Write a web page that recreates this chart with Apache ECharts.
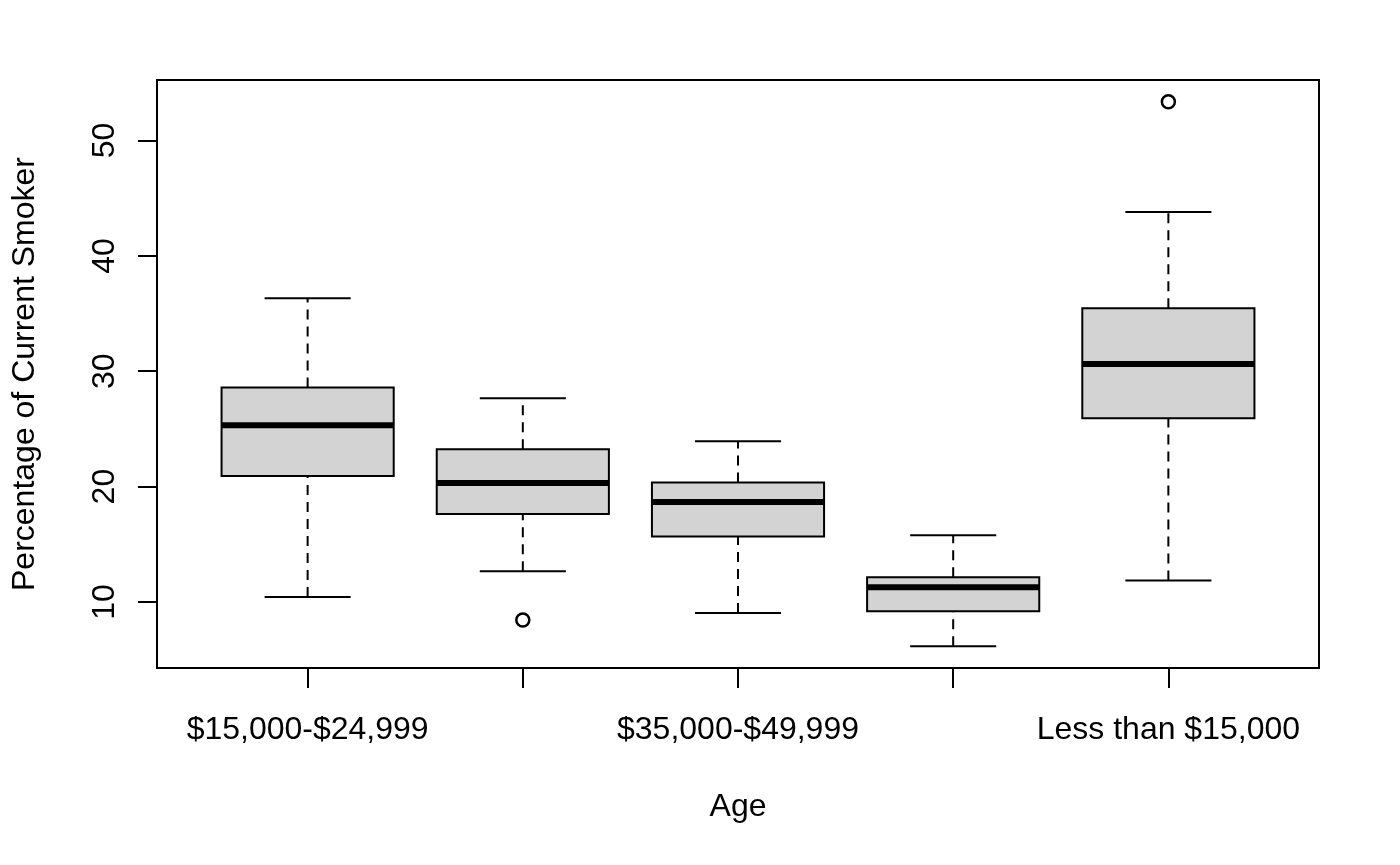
<!DOCTYPE html>
<html>
<head>
<meta charset="utf-8">
<script src="https://cdn.jsdelivr.net/npm/echarts@6/dist/echarts.min.js"></script>
<style>
  html, body { margin: 0; padding: 0; background: #fff; }
  #main { width: 1400px; height: 865px; }
</style>
</head>
<body>
<div id="main"></div>
<script>
var categories = ['$15,000-$24,999', '$25,000-$34,999', '$35,000-$49,999', '$50,000 or more', 'Less than $15,000'];
var lowWhisker = [10.43, 12.66, 9.05, 6.16, 11.85];
var q1 = [20.92, 17.63, 15.67, 9.19, 25.92];
var medians = [25.31, 20.31, 18.67, 11.27, 30.62];
var q3 = [28.60, 23.23, 20.35, 12.14, 35.45];
var highWhisker = [36.32, 27.65, 23.93, 15.78, 43.80];
var outliers = [[2, 8.44], [5, 53.36]];
var yTicks = [10, 20, 30, 40, 50];

// R style axis range: data range padded by 4%
var allVals = lowWhisker.concat(highWhisker, outliers.map(function (o) { return o[1]; }));
var lo = Math.min.apply(null, allVals), hi = Math.max.apply(null, allVals);
var pad = (hi - lo) * 0.04;

var boxData = categories.map(function (c, i) {
    return [i + 1, lowWhisker[i], q1[i], medians[i], q3[i], highWhisker[i]];
});

var font = 'Arial, "Liberation Sans", sans-serif';
var chart = echarts.init(document.getElementById('main'));

function renderBox(params, api) {
    var x = api.value(0);
    var pLow = api.coord([x, api.value(1)]);
    var pQ1 = api.coord([x, api.value(2)]);
    var pMed = api.coord([x, api.value(3)]);
    var pQ3 = api.coord([x, api.value(4)]);
    var pHigh = api.coord([x, api.value(5)]);
    var halfBox = api.size([0.4, 0])[0];
    var halfCap = api.size([0.2, 0])[0];
    var cx = pMed[0];
    var dashed = { stroke: '#000', lineWidth: 2, lineDash: [10, 7] };
    var solid = { stroke: '#000', lineWidth: 2 };
    return {
        type: 'group',
        children: [
            { type: 'line', shape: { x1: cx, y1: pQ3[1], x2: cx, y2: pHigh[1] }, style: dashed },
            { type: 'line', shape: { x1: cx, y1: pLow[1], x2: cx, y2: pQ1[1] }, style: dashed },
            { type: 'line', shape: { x1: cx - halfCap, y1: pHigh[1], x2: cx + halfCap, y2: pHigh[1] }, style: solid },
            { type: 'line', shape: { x1: cx - halfCap, y1: pLow[1], x2: cx + halfCap, y2: pLow[1] }, style: solid },
            {
                type: 'rect',
                shape: { x: cx - halfBox, y: pQ3[1], width: halfBox * 2, height: pQ1[1] - pQ3[1] },
                style: { fill: '#d3d3d3', stroke: '#000', lineWidth: 2 }
            },
            { type: 'line', shape: { x1: cx - halfBox, y1: pMed[1], x2: cx + halfBox, y2: pMed[1] }, style: { stroke: '#000', lineWidth: 6 } }
        ]
    };
}

option = {
    animation: false,
    backgroundColor: '#fff',
    grid: {
        left: 157,
        right: 81,
        top: 80,
        bottom: 197,
        show: true,
        borderColor: '#000',
        borderWidth: 2,
        backgroundColor: 'transparent'
    },
    xAxis: {
        type: 'value',
        min: 0.3,
        max: 5.7,
        splitLine: { show: false },
        axisLine: { show: false },
        axisTick: {
            show: true,
            customValues: [1, 2, 3, 4, 5],
            length: 20,
            lineStyle: { color: '#000', width: 2 }
        },
        axisLabel: {
            customValues: [1, 3, 5],
            formatter: function (v) { return categories[Math.round(v) - 1]; },
            color: '#000',
            fontSize: 32,
            lineHeight: 32,
            fontFamily: font,
            margin: 46
        },
        name: 'Age',
        nameLocation: 'middle',
        nameGap: 123,
        nameTextStyle: { color: '#000', fontSize: 32, fontFamily: font, lineHeight: 32 }
    },
    yAxis: {
        type: 'value',
        min: lo - pad,
        max: hi + pad,
        splitLine: { show: false },
        axisLine: { show: false },
        axisTick: {
            show: true,
            customValues: yTicks,
            length: 19,
            lineStyle: { color: '#000', width: 2 }
        },
        axisLabel: {
            customValues: yTicks,
            rotate: 90,
            color: '#000',
            fontSize: 32,
            fontFamily: font,
            margin: 36
        },
        name: 'Percentage of Current Smoker',
        nameLocation: 'middle',
        nameRotate: 90,
        nameGap: 116,
        nameTextStyle: { color: '#000', fontSize: 32, fontFamily: font }
    },
    series: [
        {
            name: 'box',
            type: 'custom',
            renderItem: renderBox,
            encode: { x: 0, y: [1, 2, 3, 4, 5] },
            data: boxData,
            silent: true
        },
        {
            name: 'outliers',
            type: 'scatter',
            symbol: 'circle',
            symbolSize: 13,
            itemStyle: { color: 'rgba(0,0,0,0)', borderColor: '#000', borderWidth: 2.5, opacity: 1 },
            data: outliers,
            silent: true
        }
    ]
};
chart.setOption(option);
</script>
</body>
</html>
